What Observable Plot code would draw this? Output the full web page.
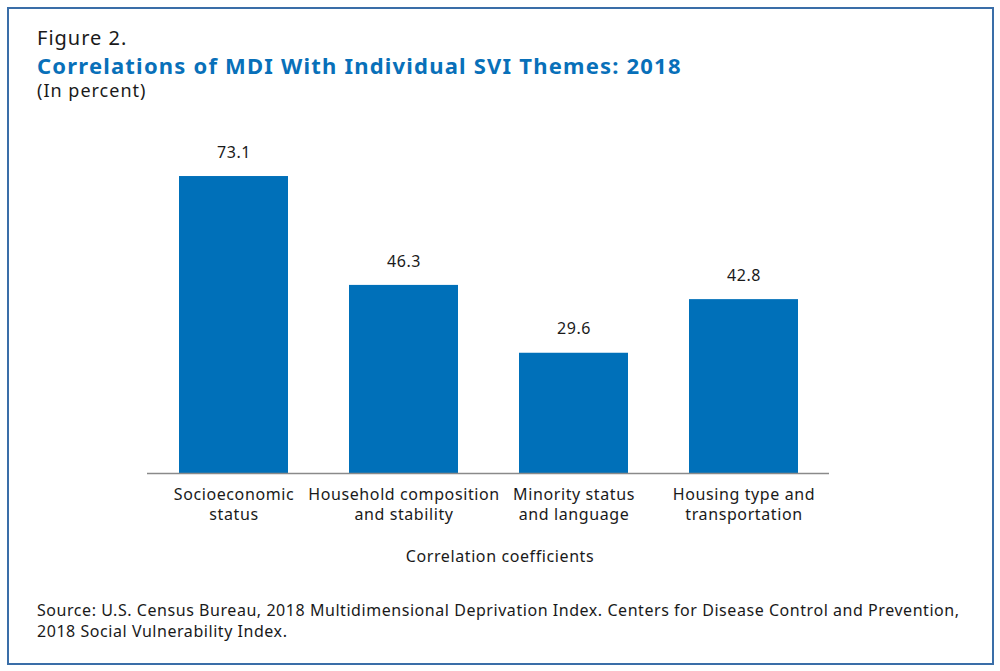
<!DOCTYPE html>
<html>
<head>
<meta charset="utf-8">
<script src="https://cdn.jsdelivr.net/npm/d3@7"></script>
<script src="https://cdn.jsdelivr.net/npm/@observablehq/plot@0.6"></script>
<style>
  body { margin: 0; background: #fff; font-family: "Noto Sans", sans-serif; }
  #frame { position: absolute; left: 7px; top: 7px; width: 983px; height: 654px; border: 2px solid #3a6ea8; }
  .t { position: absolute; left: 37px; color: #1a1a1a; white-space: nowrap; }
  #chart { position: absolute; left: 0; top: 100px; }
</style>
</head>
<body>
<div id="frame"></div>
<div class="t" style="top:24px;font-size:20px;letter-spacing:1px;">Figure 2.</div>
<div class="t" style="top:50px;font-size:22px;font-weight:bold;color:#0870b9;letter-spacing:1.2px;">Correlations of MDI With Individual SVI Themes: 2018</div>
<div class="t" style="top:78px;font-size:18px;letter-spacing:1px;">(In percent)</div>
<div id="chart"></div>
<div class="t" style="top:545px;left:0;width:1000px;text-align:center;font-size:16px;letter-spacing:0.6px;">Correlation coefficients</div>
<div class="t" style="top:600px;font-size:16px;line-height:21px;letter-spacing:0.55px;">Source: U.S. Census Bureau, 2018 Multidimensional Deprivation Index. Centers for Disease Control and Prevention,<br>2018 Social Vulnerability Index.</div>
<script>
const themes = ["Socioeconomic\nstatus", "Household composition\nand stability", "Minority status\nand language", "Housing type and\ntransportation"];
const values = [73.1, 46.3, 29.6, 42.8];

const data = themes.map((t, i) => ({theme: t, value: values[i]}));

const chart = Plot.plot({
  width: 1000,
  height: 500,
  marginLeft: 147,
  marginRight: 171,
  marginTop: 48,
  marginBottom: 127,
  style: {fontFamily: "Noto Sans, sans-serif", fontSize: "16px", color: "#1a1a1a", letterSpacing: "0.6px"},
  x: {domain: themes, padding: 0.36, paddingOuter: 0.18, axis: null},
  y: {domain: [0, 80], axis: null},
  marks: [
    Plot.barY(data, {x: "theme", y: "value", fill: "#0070b9"}),
    Plot.ruleY([0], {stroke: "#8a8a8a", strokeWidth: 1.5}),
    Plot.text(data, {x: "theme", y: "value", text: d => d.value.toFixed(1), dy: -24, fontSize: 16, fill: "#1a1a1a"}),
    // category labels under the baseline
    Plot.text(data, {x: "theme", y: 0, text: "theme", lineAnchor: "top", dy: 12, lineHeight: 1.25, fontSize: 16, fill: "#1a1a1a"})
  ]
});
d3.select("#chart").append(() => chart);
</script>
</body>
</html>
